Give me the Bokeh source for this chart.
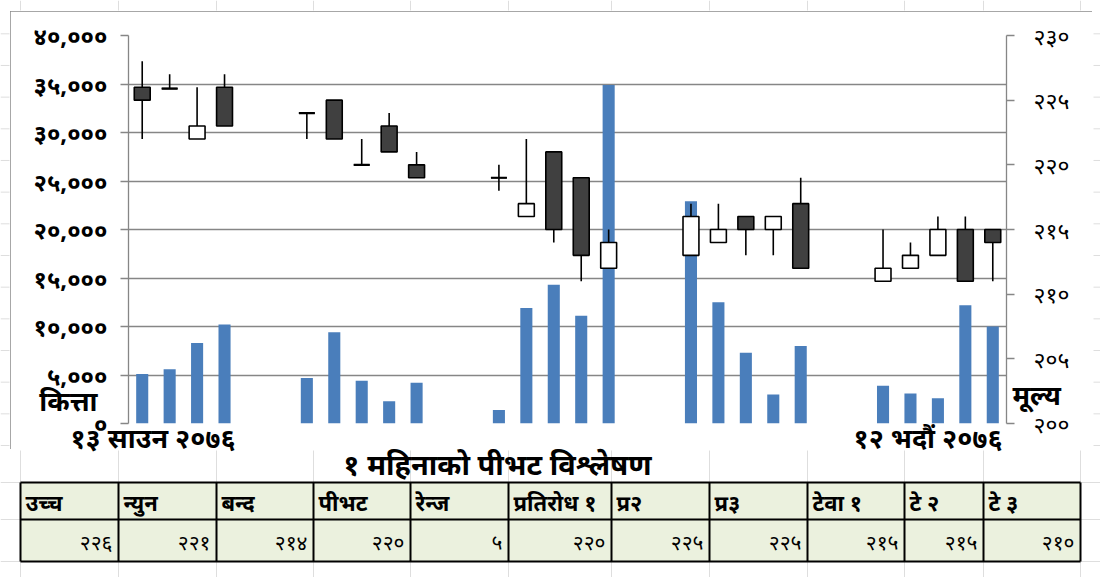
from bokeh.plotting import figure
from bokeh.models import Range1d, LinearAxis, FixedTicker
from bokeh.layouts import column
from bokeh.embed import file_html
from bokeh.resources import INLINE
from bokeh.core.properties import value

# ---- data: trading days counted from 13 Saun 2076 ----
day = [0, 1, 2, 3, 6, 7, 8, 9, 10, 13, 14, 15, 16, 17, 20, 21, 22, 23, 24, 27, 28, 29, 30, 31]
open_ = [226, 225.9, 222, 226, 224, 225, 220, 223, 220, 219, 216, 221, 219, 212, 213, 214, 216, 215, 217, 211, 212, 213, 215, 215]
high = [228, 227, 226, 227, 224, 225, 222, 224, 221, 220, 222, 221, 219, 215, 217, 217, 216, 216, 219, 215, 214, 216, 216, 215]
low = [222, 225.9, 222, 223, 222, 222, 220, 221, 219, 218, 216, 214, 211, 212, 213, 214, 213, 213, 212, 211, 212, 213, 211, 211]
close = [225, 225.9, 223, 223, 224, 222, 220, 221, 219, 219, 217, 215, 213, 214, 216, 215, 215, 216, 212, 212, 213, 215, 211, 214]
volume = [5100, 5600, 8300, 10200, 4700, 9400, 4400, 2300, 4200, 1400, 11900, 14300, 11100, 34900,
          22900, 12500, 7300, 3000, 8000, 3900, 3100, 2600, 12200, 10000]

vol_ticks = [0, 5000, 10000, 15000, 20000, 25000, 30000, 35000, 40000]
vol_labels = ["०", "५,०००", "१०,०००", "१५,०००", "२०,०००", "२५,०००", "३०,०००", "३५,०००", "४०,०००"]
price_ticks = [200, 205, 210, 215, 220, 225, 230]
price_labels = ["२००", "२०५", "२१०", "२१५", "२२०", "२२५", "२३०"]

date_labels = ["१३ साउन २०७६", "१२ भदौं २०७६"]
vol_title = "कित्ता"
price_title = "मूल्य"

table_title = "१ महिनाको पीभट विश्लेषण"
table_headers = ["उच्च", "न्युन", "बन्द", "पीभट", "रेन्ज", "प्रतिरोध १", "प्र२", "प्र३", "टेवा १", "टे २", "टे ३"]
table_values = ["२२६", "२२१", "२१४", "२२०", "५", "२२०", "२२५", "२२५", "२१५", "२१५", "२१०"]

# ---- style ----
FONT = "Noto Sans"
GRID = "#868686"
SHEET = "#dedede"

# ---- chart (its box is the chart area, page x 10..1092, y 11..449) ----
p = figure(width=1082, height=438, x_range=Range1d(-0.5, 31.5), y_range=Range1d(0, 40000),
           toolbar_location=None, output_backend="svg", x_axis_location=None,
           min_border_left=118, min_border_right=86, min_border_top=24, min_border_bottom=26)
p.margin = (11, 0, 0, 10)
p.styles = {"outline": "1.5px solid #8a8a8a", "outline-offset": "-1.5px"}
if "frame_align" in p.properties():
    p.frame_align = False
p.outline_line_color = None
p.xgrid.visible = False
p.ygrid.ticker = FixedTicker(ticks=vol_ticks)
p.ygrid.grid_line_color = GRID
p.ygrid.grid_line_width = 1.3

ly = p.yaxis[0]
ly.ticker = FixedTicker(ticks=vol_ticks)
ly.major_label_overrides = {t: s for t, s in zip(vol_ticks, vol_labels)}
ly.major_tick_out = 8
ly.major_tick_in = 0
ly.minor_tick_out = 0
ly.minor_tick_in = 0
ly.major_tick_line_color = GRID
ly.major_tick_line_width = 1.3
ly.axis_line_color = GRID
ly.axis_line_width = 1.3
ly.major_label_standoff = 13
ly.major_label_text_font = FONT
ly.major_label_text_font_size = "24px"
ly.major_label_text_font_style = "bold"
ly.major_label_text_color = "black"

p.extra_y_ranges = {"price": Range1d(200, 230)}
ry = LinearAxis(y_range_name="price")
ry.ticker = FixedTicker(ticks=price_ticks)
ry.major_label_overrides = {t: s for t, s in zip(price_ticks, price_labels)}
ry.major_tick_out = 8
ry.major_tick_in = 0
ry.minor_tick_out = 0
ry.minor_tick_in = 0
ry.major_tick_line_color = GRID
ry.major_tick_line_width = 1.3
ry.axis_line_color = GRID
ry.axis_line_width = 1.3
ry.major_label_standoff = 19
ry.major_label_text_font = FONT
ry.major_label_text_font_size = "23px"
ry.major_label_text_color = "black"
p.add_layout(ry, "right")

# volume bars
p.vbar(x=day, top=volume, bottom=0, width=0.44, fill_color="#4a7ebb", line_color=None)

# candles
up = [c >= o for o, c in zip(open_, close)]
body_top = [max(o, c) for o, c in zip(open_, close)]
body_bottom = [min(o, c) for o, c in zip(open_, close)]
body_fill = ["white" if u else "#404040" for u in up]
p.segment(x0=day, y0=low, x1=day, y1=high, y_range_name="price",
          line_color="black", line_width=1.6)
p.vbar(x=day, top=body_top, bottom=body_bottom, width=0.58, fill_color=body_fill,
       line_color="black", line_width=1.6, y_range_name="price")
doji = [i for i, (o, c) in enumerate(zip(open_, close)) if o == c]
p.segment(x0=[day[i] - 0.29 for i in doji], x1=[day[i] + 0.29 for i in doji],
          y0=[open_[i] for i in doji], y1=[open_[i] for i in doji],
          y_range_name="price", line_color="black", line_width=2.2)

# ---- transparent overlay in page pixels: captions, sheet grid, table ----
o = figure(width=1100, height=577, x_range=Range1d(0, 1100), y_range=Range1d(577, 0),
           toolbar_location=None, output_backend="svg", min_border=0,
           x_axis_location=None, y_axis_location=None)
o.margin = (-449, 0, 0, 0)
if "frame_align" in o.properties():
    o.frame_align = False
o.grid.visible = False
o.outline_line_color = None
o.background_fill_alpha = 0
o.border_fill_alpha = 0

col_edges = [20, 118, 216, 313, 410, 508, 611, 709, 807, 904, 983, 1080]
row_edges = [482, 519, 561]
sheet_rows = [33.3 + 31.67 * k for k in range(14)]

# spreadsheet cell lines visible around the chart area
o.segment(x0=col_edges, y0=0, x1=col_edges, y1=10, line_color=SHEET, line_width=1)
o.segment(x0=col_edges, y0=450, x1=col_edges, y1=577, line_color=SHEET, line_width=1)
o.segment(x0=0, y0=sheet_rows, x1=9, y1=sheet_rows, line_color=SHEET, line_width=1)
o.segment(x0=1093, y0=sheet_rows, x1=1100, y1=sheet_rows, line_color=SHEET, line_width=1)
o.segment(x0=0, y0=row_edges, x1=1100, y1=row_edges, line_color=SHEET, line_width=1)

# axis captions
o.text(x=[97], y=[400], text=[vol_title], text_align="right", text_baseline="alphabetic",
       text_font=value(FONT), text_font_size="27px", text_font_style="bold")
o.text(x=[1012], y=[394], text=[price_title], text_align="left", text_baseline="alphabetic",
       text_font=value(FONT), text_font_size="27px", text_font_style="bold")
o.text(x=[70, 1002], y=[437, 437], text=date_labels, text_align=["left", "right"],
       text_baseline="alphabetic", text_font=value(FONT), text_font_size="27px",
       text_font_style="bold")

# table
o.quad(left=col_edges[0], right=col_edges[-1], top=row_edges[0], bottom=row_edges[-1],
       fill_color="#ebf1de", line_color=None)
o.segment(x0=col_edges, y0=row_edges[0], x1=col_edges, y1=row_edges[-1], line_color="black", line_width=2)
o.segment(x0=col_edges[0], y0=row_edges, x1=col_edges[-1], y1=row_edges, line_color="black", line_width=2)
o.text(x=[e + 5 for e in col_edges[:-1]], y=[(row_edges[0] + row_edges[1]) / 2 + 1] * len(table_headers),
       text=table_headers, text_align="left", text_baseline="middle",
       text_font=value(FONT), text_font_size="22px", text_font_style="bold")
o.text(x=[e - 6 for e in col_edges[1:]], y=[(row_edges[1] + row_edges[2]) / 2 + 1] * len(table_values),
       text=table_values, text_align="right", text_baseline="middle",
       text_font=value(FONT), text_font_size="21px")
o.text(x=[497], y=[463], text=[table_title], text_align="center", text_baseline="middle",
       text_font=value(FONT), text_font_size="29px", text_font_style="bold")

layout = column(p, o, spacing=0)
open("out.html", "w").write(file_html(layout, INLINE))
